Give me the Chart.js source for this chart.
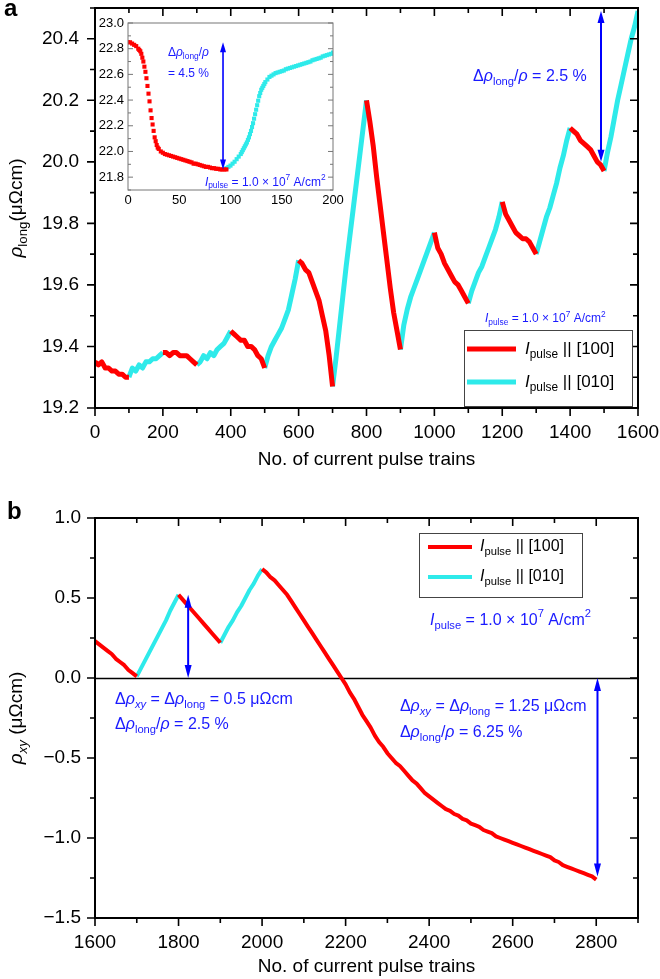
<!DOCTYPE html>
<html>
<head>
<meta charset="utf-8">
<title>Resistivity vs. number of current pulse trains</title>
<script src="https://cdn.jsdelivr.net/npm/chart.js@4.4.1/dist/chart.umd.min.js"></script>
<style>
  html, body { margin: 0; padding: 0; background: #fff; }
  body { width: 660px; height: 979px; position: relative; overflow: hidden; }
  .box { position: absolute; }
  #boxA { left: 0; top: 0; width: 660px; height: 475px; }
  #boxB { left: 0; top: 470px; width: 660px; height: 509px; }
  #boxInset { left: 95px; top: 10px; width: 255px; height: 200px; }
</style>
</head>
<body>
<div class="box" id="boxA"><canvas id="chartA"></canvas></div>
<div class="box" id="boxB"><canvas id="chartB"></canvas></div>
<div class="box" id="boxInset"><canvas id="chartInset"></canvas></div>
<script>
// --------------------
// Data
// --------------------

// panel a: rho_long vs pulse trains, one value every 10 trains
const pulseA = [
  0, 10, 20, 30, 40, 50, 60, 70, 80, 90,
  100, 110, 120, 130, 140, 150, 160, 170, 180, 190,
  200, 210, 220, 230, 240, 250, 260, 270, 280, 290,
  300, 310, 320, 330, 340, 350, 360, 370, 380, 390,
  400, 410, 420, 430, 440, 450, 460, 470, 480, 490,
  500, 510, 520, 530, 540, 550, 560, 570, 580, 590,
  600, 610, 620, 630, 640, 650, 660, 670, 680, 690,
  700, 710, 720, 730, 740, 750, 760, 770, 780, 790,
  800, 810, 820, 830, 840, 850, 860, 870, 880, 890,
  900, 910, 920, 930, 940, 950, 960, 970, 980, 990,
  1000, 1010, 1020, 1030, 1040, 1050, 1060, 1070, 1080, 1090,
  1100, 1110, 1120, 1130, 1140, 1150, 1160, 1170, 1180, 1190,
  1200, 1210, 1220, 1230, 1240, 1250, 1260, 1270, 1280, 1290,
  1300, 1310, 1320, 1330, 1340, 1350, 1360, 1370, 1380, 1390,
  1400, 1410, 1420, 1430, 1440, 1450, 1460, 1470, 1480, 1490,
  1500, 1510, 1520, 1530, 1540, 1550, 1560, 1570, 1580, 1590,
  1600
];
const rhoLong = [
  19.35, 19.34, 19.35, 19.33, 19.33, 19.32, 19.32, 19.31, 19.31, 19.30,
  19.30, 19.33, 19.32, 19.34, 19.33, 19.35, 19.35, 19.36, 19.36, 19.37,
  19.38, 19.38, 19.37, 19.38, 19.38, 19.37, 19.37, 19.37, 19.36, 19.35,
  19.34, 19.35, 19.37, 19.36, 19.38, 19.37, 19.39, 19.40, 19.41, 19.43,
  19.45, 19.44, 19.43, 19.42, 19.42, 19.40, 19.40, 19.39, 19.37, 19.36,
  19.33, 19.37, 19.40, 19.42, 19.44, 19.46, 19.49, 19.52, 19.57, 19.62,
  19.68, 19.67, 19.65, 19.64, 19.61, 19.58, 19.55, 19.50, 19.45, 19.37,
  19.27, 19.36, 19.46, 19.56, 19.66, 19.75, 19.84, 19.93, 20.02, 20.11,
  20.20, 20.13, 20.05, 19.95, 19.86, 19.77, 19.68, 19.59, 19.51, 19.45,
  19.39, 19.47, 19.52, 19.56, 19.59, 19.62, 19.65, 19.68, 19.71, 19.74,
  19.77, 19.72, 19.70, 19.67, 19.65, 19.63, 19.61, 19.60, 19.58, 19.56,
  19.54, 19.58, 19.61, 19.64, 19.66, 19.69, 19.72, 19.75, 19.78, 19.82,
  19.87, 19.83, 19.81, 19.79, 19.77, 19.76, 19.75, 19.75, 19.74, 19.72,
  19.70, 19.74, 19.78, 19.82, 19.85, 19.89, 19.93, 19.98, 20.02, 20.07,
  20.11, 20.10, 20.09, 20.07, 20.06, 20.05, 20.04, 20.02, 20.00, 19.99,
  19.97, 20.03, 20.08, 20.14, 20.20, 20.25, 20.30, 20.35, 20.40, 20.44,
  20.49
];
// current direction of each block of 100 trains, starting at 0
const dirA = ['100', '010', '100', '010', '100', '010', '100', '010',
              '100', '010', '100', '010', '100', '010', '100', '010'];
const ticksAX = [0, 200, 400, 600, 800, 1000, 1200, 1400, 1600];
const ticksAY = [19.2, 19.4, 19.6, 19.8, 20.0, 20.2, 20.4];

// panel b: rho_xy vs pulse trains
const pulseB = [
  1600, 1610, 1620, 1630, 1640, 1650, 1660, 1670, 1680, 1690,
  1700, 1710, 1720, 1730, 1740, 1750, 1760, 1770, 1780, 1790,
  1800, 1810, 1820, 1830, 1840, 1850, 1860, 1870, 1880, 1890,
  1900, 1910, 1920, 1930, 1940, 1950, 1960, 1970, 1980, 1990,
  2000, 2010, 2020, 2030, 2040, 2050, 2060, 2070, 2080, 2090,
  2100, 2110, 2120, 2130, 2140, 2150, 2160, 2170, 2180, 2190,
  2200, 2210, 2220, 2230, 2240, 2250, 2260, 2270, 2280, 2290,
  2300, 2310, 2320, 2330, 2340, 2350, 2360, 2370, 2380, 2390,
  2400, 2410, 2420, 2430, 2440, 2450, 2460, 2470, 2480, 2490,
  2500, 2510, 2520, 2530, 2540, 2550, 2560, 2570, 2580, 2590,
  2600, 2610, 2620, 2630, 2640, 2650, 2660, 2670, 2680, 2690,
  2700, 2710, 2720, 2730, 2740, 2750, 2760, 2770, 2780, 2790,
  2800
];
const rhoXY = [
  0.23, 0.21, 0.19, 0.17, 0.15, 0.12, 0.10, 0.08, 0.05, 0.03,
  0.01, 0.06, 0.11, 0.16, 0.21, 0.26, 0.31, 0.36, 0.42, 0.47,
  0.52, 0.49, 0.46, 0.43, 0.40, 0.37, 0.34, 0.31, 0.28, 0.25,
  0.22, 0.27, 0.32, 0.36, 0.41, 0.45, 0.50, 0.55, 0.59, 0.64,
  0.68, 0.66, 0.63, 0.61, 0.58, 0.55, 0.52, 0.48, 0.44, 0.40,
  0.36, 0.32, 0.28, 0.24, 0.20, 0.16, 0.12, 0.08, 0.04, 0.00,
  -0.04, -0.09, -0.13, -0.18, -0.23, -0.27, -0.31, -0.36, -0.40, -0.43,
  -0.47, -0.50, -0.53, -0.55, -0.58, -0.61, -0.64, -0.66, -0.69, -0.72,
  -0.74, -0.76, -0.78, -0.80, -0.82, -0.83, -0.85, -0.86, -0.88, -0.89,
  -0.91, -0.92, -0.93, -0.95, -0.96, -0.97, -0.99, -1.00, -1.01, -1.02,
  -1.03, -1.04, -1.05, -1.06, -1.07, -1.08, -1.09, -1.10, -1.11, -1.12,
  -1.14, -1.15, -1.17, -1.18, -1.19, -1.20, -1.21, -1.22, -1.23, -1.24,
  -1.26
];
const dirB = ['100', '010', '100', '010', '100', '100',
              '100', '100', '100', '100', '100', '100'];
const ticksBX = [1600, 1800, 2000, 2200, 2400, 2600, 2800];
const ticksBY = [-1.5, -1.0, -0.5, 0.0, 0.5, 1.0];

// inset: first 200 trains, pulse || [100] then || [010]
const insetRedX = [
  0, 2, 4, 6, 8, 10, 11, 12, 13, 14, 15, 16, 17, 18, 19, 20,
  21, 22, 23, 24, 25, 26, 27, 28, 29, 30, 32, 34, 36, 38, 40,
  42, 44, 46, 48, 50, 52, 54, 56, 58, 60, 62, 64, 66, 68, 70,
  72, 74, 76, 78, 80, 82, 84, 86, 88, 90, 92, 94, 96
];
const insetRedY = [
  22.85, 22.85, 22.84, 22.83, 22.82, 22.80, 22.79, 22.78, 22.76, 22.73, 22.70, 22.66, 22.62, 22.57, 22.51, 22.45,
  22.39, 22.32, 22.26, 22.21, 22.16, 22.11, 22.08, 22.05, 22.03, 22.02, 22.00, 21.99, 21.98, 21.975, 21.97,
  21.965, 21.96, 21.955, 21.95, 21.945, 21.94, 21.935, 21.93, 21.925, 21.92, 21.915, 21.905, 21.905, 21.90, 21.895,
  21.89, 21.885, 21.88, 21.88, 21.875, 21.87, 21.87, 21.865, 21.865, 21.86, 21.86, 21.86, 21.86
];
const insetCyanX = [
  96, 98, 100, 102, 104, 106, 108, 110, 111, 112, 113, 114, 115, 116, 117, 118,
  119, 120, 121, 122, 123, 124, 125, 126, 127, 128, 129, 130, 131, 132, 133, 134,
  136, 138, 140, 142, 144, 146, 148, 150, 152, 154, 156, 158, 160, 162, 164, 166,
  168, 170, 172, 174, 176, 178, 180, 182, 184, 186, 188, 190, 192, 194, 196, 198, 200
];
const insetCyanY = [
  21.87, 21.88, 21.89, 21.905, 21.92, 21.94, 21.96, 21.98, 21.995, 22.01, 22.025, 22.04, 22.055, 22.07, 22.09, 22.11,
  22.135, 22.16, 22.19, 22.22, 22.255, 22.29, 22.325, 22.36, 22.395, 22.43, 22.455, 22.48, 22.495, 22.51, 22.525, 22.54,
  22.56, 22.58, 22.59, 22.60, 22.61, 22.615, 22.62, 22.625, 22.63, 22.64, 22.645, 22.65, 22.655, 22.66, 22.665, 22.67,
  22.675, 22.68, 22.685, 22.69, 22.695, 22.70, 22.71, 22.715, 22.72, 22.725, 22.73, 22.74, 22.745, 22.75, 22.755, 22.76, 22.77
];
const ticksInsetX = [0, 50, 100, 150, 200];
const ticksInsetY = [21.8, 22.0, 22.2, 22.4, 22.6, 22.8, 23.0];

const dirLabels = { '100': '[100]', '010': '[010]' };

// --------------------
// Styling
// --------------------
const FONT = '"Liberation Sans", Arial, Helvetica, sans-serif';
const RED = '#ff0000';
const CYAN = '#2eeaea';
const BLUE = '#1a1aff';
const dirColors = { '100': RED, '010': CYAN };

// --------------------
// Helpers
// --------------------

// which points of a series belong to one current direction
function pointsForDir(xs, ys, x0, dirs, dir) {
  return xs.map((x, i) => {
    const k = Math.floor((x - x0) / 100);
    const onEdge = (x - x0) % 100 === 0;
    const mine = dirs[k] === dir || (onEdge && dirs[k - 1] === dir);
    return { x: x, y: mine ? ys[i] : null };
  });
}

function isMultiple(v, step) {
  const r = v / step;
  return Math.abs(r - Math.round(r)) < 1e-6;
}

// rich text: parts = [[text, style]], style: '' | 'i' italic | 's' sub | 'S' sup | 'is'
function richFont(s, size) {
  const small = s.includes('s') || s.includes('S');
  return (s.includes('i') ? 'italic ' : '') + (small ? size * 0.7 : size) + 'px ' + FONT;
}
function richWidth(ctx, parts, size) {
  let w = 0;
  for (const [t, s] of parts) {
    ctx.font = richFont(s, size);
    w += ctx.measureText(t).width;
  }
  return w;
}
function drawRich(ctx, parts, x, y, size, color, align) {
  ctx.fillStyle = color;
  ctx.textBaseline = 'middle';
  ctx.textAlign = 'left';
  let cx = align === 'center' ? x - richWidth(ctx, parts, size) / 2 : x;
  for (const [t, s] of parts) {
    ctx.font = richFont(s, size);
    const dy = s.includes('s') ? size * 0.32 : (s.includes('S') ? -size * 0.38 : 0);
    ctx.fillText(t, cx, y + dy);
    cx += ctx.measureText(t).width;
  }
}

function drawArrow(ctx, px, p1, p2, a) {
  const dir = Math.sign(p2 - p1);
  ctx.strokeStyle = a.color;
  ctx.fillStyle = a.color;
  ctx.lineWidth = a.lw;
  ctx.beginPath();
  ctx.moveTo(px, p1 + dir * a.hl * 0.8);
  ctx.lineTo(px, p2 - dir * a.hl * 0.8);
  ctx.stroke();
  [[p1, -dir], [p2, dir]].forEach(([tip, d]) => {
    ctx.beginPath();
    ctx.moveTo(px, tip);
    ctx.lineTo(px - a.hw / 2, tip - d * a.hl);
    ctx.lineTo(px + a.hw / 2, tip - d * a.hl);
    ctx.closePath();
    ctx.fill();
  });
}

function drawLegend(ctx, area, L) {
  const bx = Math.round(area.left + L.left), by = Math.round(area.top + L.top);
  ctx.fillStyle = '#fff';
  ctx.fillRect(bx, by, L.w, L.h);
  ctx.strokeStyle = '#444';
  ctx.lineWidth = 1;
  ctx.strokeRect(bx + 0.5, by + 0.5, L.w, L.h);
  L.rows.forEach(r => {
    ctx.strokeStyle = dirColors[r.dir];
    ctx.lineWidth = L.lineW;
    ctx.beginPath();
    ctx.moveTo(bx + L.x1, by + r.dy);
    ctx.lineTo(bx + L.x2, by + r.dy);
    ctx.stroke();
    drawRich(ctx, [['I', 'i'], ['pulse', 's'], [' || ' + dirLabels[r.dir], '']],
      bx + L.tx, by + r.dy, L.size, '#000');
  });
}

// --------------------
// Plugins: axis frame with minor ticks, annotations
// --------------------
const framePlugin = {
  id: 'frame',
  beforeDatasetsDraw(chart, args, o) {
    const { ctx, chartArea: a, scales: { y } } = chart;
    ctx.save();
    if (o.background) {
      ctx.fillStyle = o.background;
      ctx.fillRect(a.left, a.top, a.right - a.left, a.bottom - a.top);
    }
    if (o.zeroLine) {
      const py = Math.round(y.getPixelForValue(0)) + 0.5;
      ctx.strokeStyle = '#000';
      ctx.lineWidth = o.zeroLine;
      ctx.beginPath();
      ctx.moveTo(a.left, py);
      ctx.lineTo(a.right, py);
      ctx.stroke();
    }
    ctx.restore();
  },
  afterDatasetsDraw(chart, args, o) {
    const { ctx, chartArea: a, scales: { x, y } } = chart;
    ctx.save();
    ctx.strokeStyle = o.color;
    ctx.lineWidth = o.tickWidth;
    ctx.beginPath();
    const each = (scale, minor, major, fn) => {
      const n0 = Math.ceil(scale.min / minor - 1e-6), n1 = Math.floor(scale.max / minor + 1e-6);
      for (let n = n0; n <= n1; n++) {
        const v = n * minor;
        fn(scale.getPixelForValue(v), isMultiple(v, major) ? o.majorLen : o.minorLen);
      }
    };
    const s = o.sides;
    each(x, o.xMinor, o.xMajor, (px, len) => {
      if (s.bottom) { ctx.moveTo(px, a.bottom); ctx.lineTo(px, a.bottom + (s.bottom === 'out' ? len : -len)); }
      if (s.top) { ctx.moveTo(px, a.top); ctx.lineTo(px, a.top + (s.top === 'out' ? -len : len)); }
    });
    each(y, o.yMinor, o.yMajor, (py, len) => {
      if (s.left) { ctx.moveTo(a.left, py); ctx.lineTo(a.left + (s.left === 'out' ? -len : len), py); }
      if (s.right) { ctx.moveTo(a.right, py); ctx.lineTo(a.right + (s.right === 'out' ? len : -len), py); }
    });
    ctx.stroke();
    ctx.lineWidth = o.width;
    ctx.strokeRect(a.left, a.top, a.right - a.left, a.bottom - a.top);
    ctx.restore();
  }
};

const notesPlugin = {
  id: 'notes',
  afterDraw(chart, args, o) {
    const { ctx, chartArea: a, scales: { x, y } } = chart;
    ctx.save();
    (o.arrows || []).forEach(ar => {
      drawArrow(ctx, x.getPixelForValue(ar.x), y.getPixelForValue(ar.from), y.getPixelForValue(ar.to), o.arrowStyle);
    });
    (o.texts || []).forEach(t => {
      drawRich(ctx, t.parts, x.getPixelForValue(t.x), y.getPixelForValue(t.y), t.size, BLUE, 'left');
    });
    if (o.legend) drawLegend(ctx, a, o.legend);
    if (o.yTitle) {
      ctx.save();
      ctx.translate(o.yTitle.x, (a.top + a.bottom) / 2);
      ctx.rotate(-Math.PI / 2);
      drawRich(ctx, o.yTitle.parts, 0, 0, o.yTitle.size, '#000', 'center');
      ctx.restore();
    }
    if (o.panel) {
      ctx.font = 'bold 24px ' + FONT;
      ctx.fillStyle = '#000';
      ctx.textAlign = 'left';
      ctx.textBaseline = 'alphabetic';
      ctx.fillText(o.panel.text, o.panel.x, o.panel.y);
    }
    ctx.restore();
  }
};

// --------------------
// Chart builders
// --------------------
function lineSets(xs, ys, x0, dirs, width) {
  return ['100', '010'].map(dir => ({
    label: dirLabels[dir],
    data: pointsForDir(xs, ys, x0, dirs, dir),
    borderColor: dirColors[dir],
    borderWidth: width,
    borderJoinStyle: 'round',
    pointRadius: 0,
    spanGaps: false,
    tension: 0
  }));
}

function fixedScale(size, horizontal) {
  return s => {
    if (horizontal) s.height = size; else s.width = size;
    s.paddingTop = 0; s.paddingBottom = 0; s.paddingLeft = 0; s.paddingRight = 0;
  };
}

function fixedTicks(values) {
  return s => { s.ticks = values.map(v => ({ value: v })); };
}

function axisTicks(fontSize, padding, callback) {
  return {
    padding: padding,
    autoSkip: false,
    maxRotation: 0,
    color: '#000',
    font: { size: fontSize, family: FONT },
    callback: callback
  };
}

const noGrid = { display: false, drawTicks: false };
const noBorder = { display: false };
const oneDecimal = v => v.toFixed(1).replace('-', '\u2212');

const pIpulse = [['I', 'i'], ['pulse', 's']];
const pDensity = [[' = 1.0 \u00d7 10', ''], ['7', 'S'], [' A/cm', ''], ['2', 'S']];
const pRatio = [['\u0394', ''], ['\u03c1', 'i'], ['long', 's'], ['/', ''], ['\u03c1', 'i']];
const pDxy = [['\u0394', ''], ['\u03c1', 'i'], ['xy', 'is'], [' = \u0394', ''], ['\u03c1', 'i'], ['long', 's']];

// --------------------
// Panel a
// --------------------
new Chart(document.getElementById('chartA'), {
  type: 'line',
  data: { datasets: lineSets(pulseA, rhoLong, 0, dirA, 5) },
  options: {
    responsive: true,
    maintainAspectRatio: false,
    animation: false,
    layout: { padding: { top: 8, right: 22, left: 0, bottom: 0 } },
    plugins: {
      legend: { display: false },
      tooltip: { enabled: false },
      frame: {
        color: '#000', width: 2, tickWidth: 1.6, majorLen: 8, minorLen: 5,
        xMajor: 200, xMinor: 100, yMajor: 0.2, yMinor: 0.1,
        sides: { bottom: 'out', left: 'out', top: 'in', right: 'in' }
      },
      notes: {
        arrowStyle: { color: '#0000ff', lw: 2, hl: 12, hw: 7 },
        arrows: [{ x: 1491, from: 20.49, to: 20.0 }],
        texts: [
          { x: 1114, y: 20.276, size: 16, parts: pRatio.concat([[' = 2.5 %', '']]) },
          { x: 1149, y: 19.49, size: 12, parts: pIpulse.concat(pDensity) }
        ],
        legend: {
          left: 369, top: 322, w: 168, h: 76, lineW: 5, x1: 3, x2: 52, tx: 61, size: 17,
          rows: [{ dir: '100', dy: 19 }, { dir: '010', dy: 52 }]
        },
        yTitle: { x: 17, size: 19, parts: [['\u03c1', 'i'], ['long', 's'], ['(\u03bc\u03a9cm)', '']] },
        panel: { text: 'a', x: 4, y: 16 }
      }
    },
    scales: {
      x: {
        type: 'linear', min: 0, max: 1600,
        afterBuildTicks: fixedTicks(ticksAX),
        afterFit: fixedScale(67, true),
        grid: noGrid, border: noBorder,
        ticks: axisTicks(19, 13, v => String(v)),
        title: {
          display: true, text: 'No. of current pulse trains', color: '#000',
          font: { size: 19, family: FONT }, padding: { top: 0, bottom: 4 }
        }
      },
      y: {
        type: 'linear', min: 19.2, max: 20.5,
        afterBuildTicks: fixedTicks(ticksAY),
        afterFit: fixedScale(95, false),
        grid: noGrid, border: noBorder,
        ticks: axisTicks(19, 16, oneDecimal)
      }
    }
  },
  plugins: [framePlugin, notesPlugin]
});

// --------------------
// Inset of panel a
// --------------------
new Chart(document.getElementById('chartInset'), {
  type: 'scatter',
  data: {
    datasets: [
      {
        data: insetRedX.map((x, i) => ({ x: x, y: insetRedY[i] })),
        backgroundColor: RED, borderColor: RED, pointStyle: 'rect',
        pointRadius: 2.9, pointBorderWidth: 0, showLine: false
      },
      {
        data: insetCyanX.map((x, i) => ({ x: x, y: insetCyanY[i] })),
        backgroundColor: CYAN, borderColor: CYAN, pointStyle: 'rect',
        pointRadius: 2.9, pointBorderWidth: 0, showLine: false
      }
    ]
  },
  options: {
    responsive: true,
    maintainAspectRatio: false,
    animation: false,
    layout: { padding: { top: 13, right: 17, left: 0, bottom: 0 } },
    plugins: {
      legend: { display: false },
      tooltip: { enabled: false },
      frame: {
        background: '#fff', color: '#777', width: 1, tickWidth: 1, majorLen: 5, minorLen: 3,
        xMajor: 50, xMinor: 25, yMajor: 0.2, yMinor: 0.1,
        sides: { left: 'in', right: 'in' }
      },
      notes: {
        arrowStyle: { color: '#0000ff', lw: 1.6, hl: 10, hw: 6 },
        arrows: [{ x: 92.7, from: 22.85, to: 21.86 }],
        texts: [
          { x: 39, y: 22.77, size: 12, parts: pRatio },
          { x: 39, y: 22.605, size: 12, parts: [['= 4.5 %', '']] },
          { x: 75, y: 21.76, size: 12, parts: pIpulse.concat(pDensity) }
        ]
      }
    },
    scales: {
      x: {
        type: 'linear', min: 0, max: 200,
        afterBuildTicks: fixedTicks(ticksInsetX),
        afterFit: fixedScale(20, true),
        grid: noGrid, border: noBorder,
        ticks: axisTicks(13, 3, v => String(v))
      },
      y: {
        type: 'linear', min: 21.7, max: 23.0,
        afterBuildTicks: fixedTicks(ticksInsetY),
        afterFit: fixedScale(33, false),
        grid: noGrid, border: noBorder,
        ticks: axisTicks(13, 4, oneDecimal)
      }
    }
  },
  plugins: [framePlugin, notesPlugin]
});

// --------------------
// Panel b
// --------------------
new Chart(document.getElementById('chartB'), {
  type: 'line',
  data: { datasets: lineSets(pulseB, rhoXY, 1600, dirB, 4) },
  options: {
    responsive: true,
    maintainAspectRatio: false,
    animation: false,
    layout: { padding: { top: 48, right: 22, left: 0, bottom: 0 } },
    plugins: {
      legend: { display: false },
      tooltip: { enabled: false },
      frame: {
        color: '#000', width: 2, tickWidth: 1.6, majorLen: 8, minorLen: 5,
        xMajor: 200, xMinor: 100, yMajor: 0.5, yMinor: 0.25, zeroLine: 1.5,
        sides: { bottom: 'out', left: 'out', top: 'in', right: 'in' }
      },
      notes: {
        arrowStyle: { color: '#0000ff', lw: 2, hl: 13, hw: 7 },
        arrows: [{ x: 1823, from: 0.0, to: 0.52 }, { x: 2803, from: 0.0, to: -1.24 }],
        texts: [
          { x: 1648, y: -0.1375, size: 16, parts: pDxy.concat([[' = 0.5 \u03bc\u03a9cm', '']]) },
          { x: 1648, y: -0.294, size: 16, parts: pRatio.concat([[' = 2.5 %', '']]) },
          { x: 2330, y: -0.18, size: 16, parts: pDxy.concat([[' = 1.25 \u03bc\u03a9cm', '']]) },
          { x: 2330, y: -0.34, size: 16, parts: pRatio.concat([[' = 6.25 %', '']]) },
          { x: 2402, y: 0.36, size: 16, parts: pIpulse.concat(pDensity) }
        ],
        legend: {
          left: 324, top: 15, w: 163, h: 64, lineW: 4, x1: 9, x2: 53, tx: 61, size: 16,
          rows: [{ dir: '100', dy: 14 }, { dir: '010', dy: 44 }]
        },
        yTitle: { x: 17, size: 19, parts: [['\u03c1', 'i'], ['xy', 'is'], [' (\u03bc\u03a9cm)', '']] },
        panel: { text: 'b', x: 7, y: 49 }
      }
    },
    scales: {
      x: {
        type: 'linear', min: 1600, max: 2900,
        afterBuildTicks: fixedTicks(ticksBX),
        afterFit: fixedScale(61, true),
        grid: noGrid, border: noBorder,
        ticks: axisTicks(19, 13, v => String(v)),
        title: {
          display: true, text: 'No. of current pulse trains', color: '#000',
          font: { size: 19, family: FONT }, padding: { top: 0, bottom: 1 }
        }
      },
      y: {
        type: 'linear', min: -1.5, max: 1.0,
        afterBuildTicks: fixedTicks(ticksBY),
        afterFit: fixedScale(95, false),
        grid: noGrid, border: noBorder,
        ticks: axisTicks(19, 14, oneDecimal)
      }
    }
  },
  plugins: [framePlugin, notesPlugin]
});
</script>
</body>
</html>
